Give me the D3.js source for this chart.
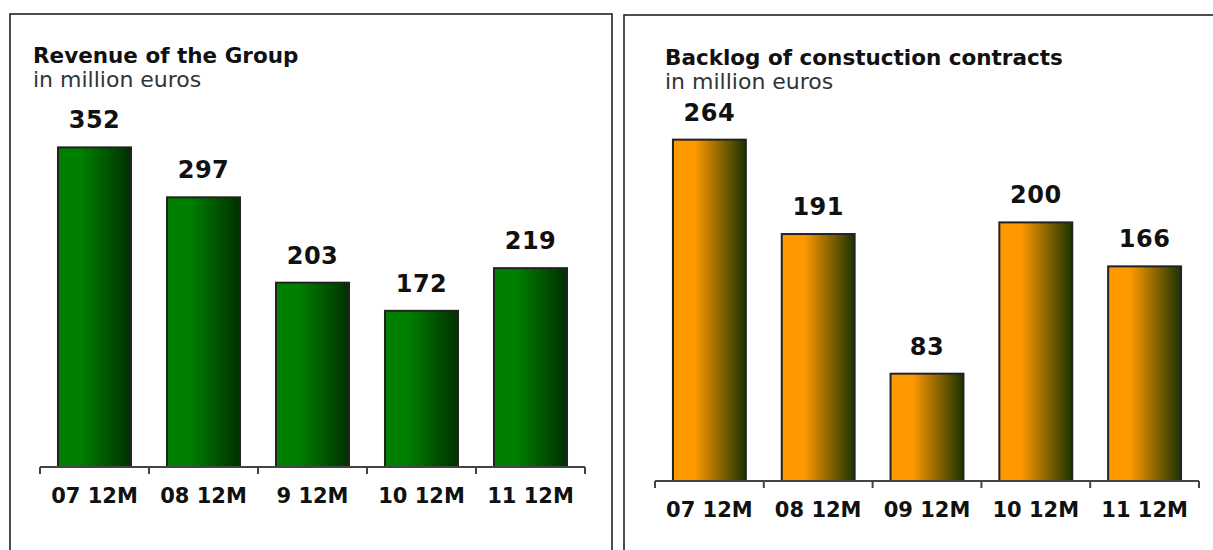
<!DOCTYPE html>
<html>
<head>
<meta charset="utf-8">
<script src="https://cdn.jsdelivr.net/npm/d3@7"></script>
<style>
  body { margin: 0; background: #fff; }
  svg { display: block; font-family: "DejaVu Sans", Verdana, sans-serif; }
</style>
</head>
<body>
<svg id="chart" width="1213" height="550"></svg>
<script>
// data
var revenueCategories = ["07 12M", "08 12M", "9 12M", "10 12M", "11 12M"]
var revenueValues = [352, 297, 203, 172, 219]
var backlogCategories = ["07 12M", "08 12M", "09 12M", "10 12M", "11 12M"]
var backlogValues = [264, 191, 83, 200, 166]

var svg = d3.select("#chart")
var defs = svg.append("defs")

function makeGradient(id, base, dark) {
    var g = defs.append("linearGradient").attr("id", id)
        .attr("x1", "0%").attr("x2", "100%").attr("y1", "0%").attr("y2", "0%")
    g.append("stop").attr("offset", "0%").attr("stop-color", base)
    g.append("stop").attr("offset", "30%").attr("stop-color", base)
    g.append("stop").attr("offset", "100%").attr("stop-color", dark)
}
makeGradient("greenGrad", "#008000", "#003000")
makeGradient("orangeGrad", "#ff9900", "#1a3300")

function drawPanel(p) {
    var g = svg.append("g")

    // frame
    g.append("rect")
        .attr("x", p.frame[0]).attr("y", p.frame[1])
        .attr("width", p.frame[2]).attr("height", 600)
        .attr("fill", "none").attr("stroke", "#222").attr("stroke-width", 1.6)

    g.append("text").attr("x", p.titleX).attr("y", p.titleY)
        .attr("font-size", 21.5).attr("font-weight", "bold").attr("fill", "#111")
        .text(p.title)
    g.append("text").attr("x", p.titleX).attr("y", p.titleY + 24)
        .attr("font-size", 22).attr("fill", "#333")
        .text("in million euros")

    var x = d3.scaleBand()
        .domain(p.categories)
        .range([p.left, p.right])
        .paddingInner(0.33)
        .paddingOuter(0.165)

    var y = d3.scaleLinear()
        .domain([0, p.max])
        .range([p.base, p.top])

    g.selectAll("rect.bar")
        .data(p.values)
        .enter()
        .append("rect")
        .attr("class", "bar")
        .attr("x", (d, i) => x(p.categories[i]))
        .attr("y", d => y(d))
        .attr("width", x.bandwidth())
        .attr("height", d => p.base - y(d))
        .attr("fill", "url(#" + p.grad + ")")
        .attr("stroke", "#222")
        .attr("stroke-width", 2)

    g.selectAll("text.val")
        .data(p.values)
        .enter()
        .append("text")
        .attr("class", "val")
        .attr("x", (d, i) => x(p.categories[i]) + x.bandwidth() / 2)
        .attr("y", d => y(d) - 19)
        .attr("text-anchor", "middle")
        .attr("font-size", 24).attr("font-weight", "bold").attr("fill", "#111")
        .attr("letter-spacing", 0.5)
        .text(d => d)

    // axis with ticks at the band boundaries
    var step = x.step()
    var bounds = d3.range(p.categories.length + 1).map(i => p.left + i * step)
    g.append("line")
        .attr("x1", p.left).attr("x2", p.right)
        .attr("y1", p.base).attr("y2", p.base)
        .attr("stroke", "#444").attr("stroke-width", 2)
    g.selectAll("line.tick")
        .data(bounds)
        .enter()
        .append("line")
        .attr("class", "tick")
        .attr("x1", d => d).attr("x2", d => d)
        .attr("y1", p.base).attr("y2", p.base + 7)
        .attr("stroke", "#444").attr("stroke-width", 2)

    g.selectAll("text.cat")
        .data(p.categories)
        .enter()
        .append("text")
        .attr("class", "cat")
        .attr("x", d => x(d) + x.bandwidth() / 2)
        .attr("y", p.base + 36)
        .attr("text-anchor", "middle")
        .attr("font-size", 21).attr("font-weight", "bold").attr("fill", "#111")
        .text(d => d)
}

drawPanel({
    frame: [10, 14, 602], title: "Revenue of the Group", titleX: 33, titleY: 63,
    categories: revenueCategories, values: revenueValues, grad: "greenGrad",
    left: 40, right: 585, base: 467, top: 103.8, max: 400
})

drawPanel({
    frame: [624, 15, 620], title: "Backlog of constuction contracts", titleX: 665, titleY: 65,
    categories: backlogCategories, values: backlogValues, grad: "orangeGrad",
    left: 655, right: 1199, base: 481, top: 93.1, max: 300
})
</script>
</body>
</html>
